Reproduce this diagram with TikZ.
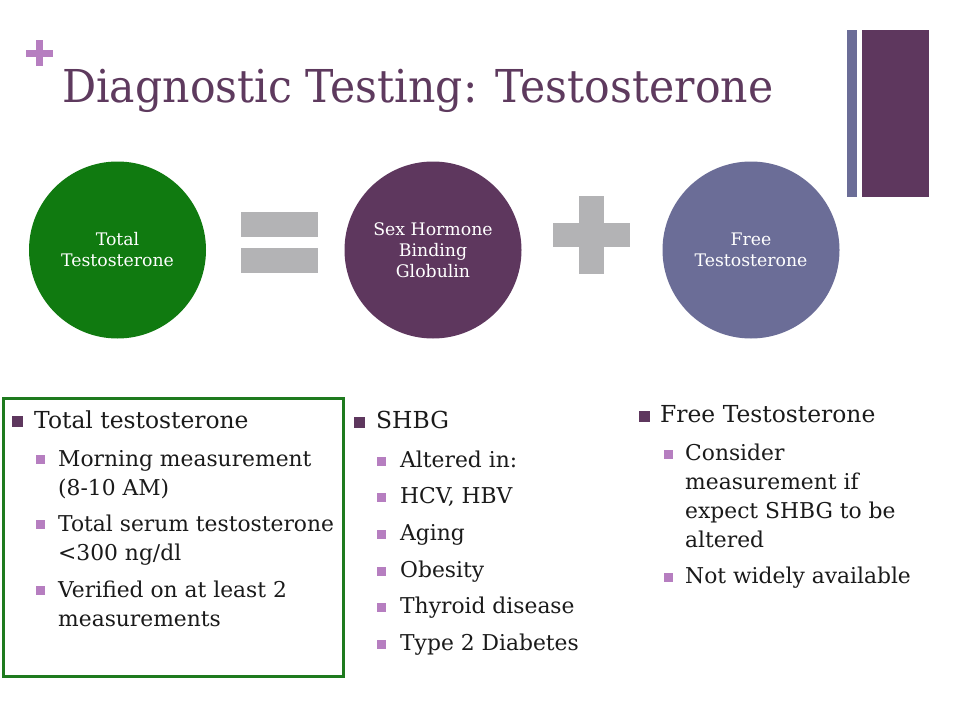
\documentclass[tikz,border=0pt]{standalone}
\usepackage{fontspec}
\setmainfont{DejaVu Serif}
\newfontfamily\bodyfont{DejaVu Serif}
\newfontfamily\titlefont[FakeStretch=0.94]{DejaVu Serif}
\definecolor{ttlpurple}{HTML}{5E3A5E}
\definecolor{dkpurple}{HTML}{5E375E}
\definecolor{slate}{HTML}{6B6D97}
\definecolor{dgreen}{HTML}{107A10}
\definecolor{boxgreen}{HTML}{1E7A1E}
\definecolor{lgray}{HTML}{B3B3B5}
\definecolor{pinkb}{HTML}{B67EC0}
\definecolor{txt}{HTML}{1A1A1A}
\tikzset{
  lvlone/.style={anchor=base west, font=\bodyfont\fontsize{23.4}{27}\selectfont, text=txt, inner sep=0pt},
  lvltwo/.style={anchor=base west, font=\bodyfont\fontsize{21.8}{26}\selectfont, text=txt, inner sep=0pt},
  bulone/.style={fill=dkpurple, minimum size=11pt, inner sep=0pt},
  bultwo/.style={fill=pinkb, minimum size=9pt, inner sep=0pt},
  circ/.style={circle, minimum size=177pt, inner sep=0pt, text=white, align=center, font=\bodyfont\fontsize{17.3}{21}\selectfont},
  graybar/.style={fill=lgray, inner sep=0pt},
}
\begin{document}
\begin{tikzpicture}[x=1pt,y=-1pt]
\useasboundingbox (0,0) rectangle (960,720);
\fill[white] (0,0) rectangle (960,720);
% small plus
\node[fill=pinkb, minimum width=27pt, minimum height=7pt, inner sep=0pt] (sph) at (39.5,53) {};
\node[fill=pinkb, minimum width=7pt, minimum height=26pt, inner sep=0pt] (spv) at (39.5,53) {};
% title
\node[anchor=base west, inner sep=0pt, text=ttlpurple, font=\titlefont\fontsize{45.3}{52}\selectfont] (title) at (62,102) {Diagnostic Testing: Testosterone};
% right bars
\node[fill=slate, minimum width=10pt, minimum height=167pt, inner sep=0pt] (bthin) at (852,113.5) {};
\node[fill=dkpurple, minimum width=67pt, minimum height=167pt, inner sep=0pt] (bthick) at (895.5,113.5) {};
% circles
\node[circ, fill=dgreen] (tt) at (117.5,250) {Total\\Testosterone};
\node[circ, fill=dkpurple] (shbg) at (433,250) {Sex Hormone\\Binding\\Globulin};
\node[circ, fill=slate] (ft) at (751,250) {Free\\Testosterone};
% equals
\node[graybar, minimum width=77pt, minimum height=25pt] (eqa) at (279.5,224.5) {};
\node[graybar, minimum width=77pt, minimum height=25pt] (eqb) at (279.5,260.5) {};
% plus
\node[graybar, minimum width=25pt, minimum height=78pt] (plv) at (591.5,235) {};
\node[graybar, minimum width=77pt, minimum height=24pt] (plh) at (591.5,235) {};
% green box
\node[draw=boxgreen, line width=3pt, minimum width=340.5pt, minimum height=277.5pt, inner sep=0pt] (gbox) at (173.25,537.25) {};
% column 1
\node[bulone] (b1) at (17.5,421.5) {};
\node[lvlone] (h1) at (34,428) {Total testosterone};
\node[bultwo] (b11) at (40,459.5) {};
\node[lvltwo] (t11a) at (58,466) {Morning measurement};
\node[lvltwo] (t11b) at (58,495) {(8-10 AM)};
\node[bultwo] (b12) at (40,524.5) {};
\node[lvltwo] (t12a) at (58,531) {Total serum testosterone};
\node[lvltwo] (t12b) at (58,560) {<300 ng/dl};
\node[bultwo] (b13) at (40,590.5) {};
\node[lvltwo] (t13a) at (58,597) {Verified on at least 2};
\node[lvltwo] (t13b) at (58,626) {measurements};
% column 2
\node[bulone] (b2) at (359,422.5) {};
\node[lvlone] (h2) at (376,428) {SHBG};
\node[bultwo] (b21) at (381.5,461) {};
\node[lvltwo] (t21) at (400,467) {Altered in:};
\node[bultwo] (b22) at (381.5,497) {};
\node[lvltwo] (t22) at (400,503) {HCV, HBV};
\node[bultwo] (b23) at (381.5,534) {};
\node[lvltwo] (t23) at (400,540) {Aging};
\node[bultwo] (b24) at (381.5,571) {};
\node[lvltwo] (t24) at (400,577) {Obesity};
\node[bultwo] (b25) at (381.5,607) {};
\node[lvltwo] (t25) at (400,613) {Thyroid disease};
\node[bultwo] (b26) at (381.5,644) {};
\node[lvltwo] (t26) at (400,650) {Type 2 Diabetes};
% column 3
\node[bulone] (b3) at (644,416.5) {};
\node[lvlone] (h3) at (660,422) {Free Testosterone};
\node[bultwo] (b31) at (668,454) {};
\node[lvltwo] (t31a) at (685,460) {Consider};
\node[lvltwo] (t31b) at (685,489) {measurement if};
\node[lvltwo] (t31c) at (685,518) {expect SHBG to be};
\node[lvltwo] (t31d) at (685,547) {altered};
\node[bultwo] (b32) at (668,577) {};
\node[lvltwo] (t32) at (685,583) {Not widely available};
\end{tikzpicture}
\end{document}
